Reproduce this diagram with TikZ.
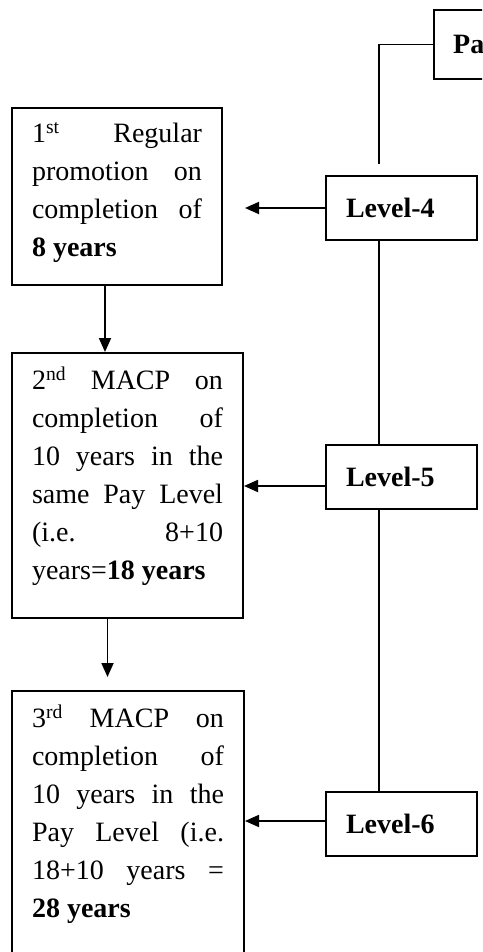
\documentclass[tikz,border=0pt]{standalone}
\usepackage{fontspec}
\setmainfont{Liberation Serif}
\usetikzlibrary{positioning,arrows.meta}
\newcommand{\lowpad}[1]{\rule[-#1]{0pt}{#1}}

\begin{document}
\begin{tikzpicture}[
  x=1pt, y=-1pt,
  stepbox/.style={rectangle, draw, line width=2pt, anchor=north west, inner xsep=20pt, inner ysep=14pt, align=justify},
  level/.style={rectangle, draw, line width=2pt, minimum height=64pt, text width=111pt, inner xsep=20pt, align=left, font=\fontsize{28}{38}\selectfont\bfseries},
  link/.style={line width=1.8pt},
  arrow/.style={link, -{Triangle[length=14pt,width=12pt]}},
  font=\fontsize{28}{38}\selectfont
]
\useasboundingbox (0,0) rectangle (482,952);
\clip (0,0) rectangle (482,952);

% Pay levels
\node[rectangle, draw, line width=2pt, anchor=north west, minimum height=69pt, minimum width=170pt] (pay) at (433,9) {};
\node[anchor=west, inner sep=0pt, font=\fontsize{28}{38}\selectfont\bfseries] (paytext) at ([xshift=20pt]pay.west) {Pa};
\node[level] (lev4) at (401.5,208) {Level-4};
\node[level, below=203pt of lev4] (lev5) {Level-5};
\node[level, below=281pt of lev5] (lev6) {Level-6};

% Promotion boxes
\node[stepbox, text width=170pt] (first) at (11,107) {1\textsuperscript{st} Regular\linebreak promotion on\linebreak completion of\linebreak \textbf{8 years}\lowpad{15pt}};
\node[stepbox, text width=191pt] (second) at (11,352) {2\textsuperscript{nd} MACP on\linebreak completion of\linebreak 10 years in the\linebreak same Pay Level\linebreak (i.e. 8+10\linebreak years=\textbf{18 years}\lowpad{24.5pt}};
\node[stepbox, text width=192pt] (third) at (11,690) {3\textsuperscript{rd} MACP on\linebreak completion of\linebreak 10 years in the\linebreak Pay Level (i.e.\linebreak 18+10 years =\linebreak \textbf{28 years}\lowpad{23.5pt}};

% Spine
\coordinate (bend) at (379,164);
\draw[link] (pay.west) -| (bend);
\draw[link] (lev4.south -| bend) -- (lev5.north -| bend);
\draw[link] (lev5.south -| bend) -- (lev6.north -| bend);

% Arrows
\draw[arrow, shorten >=22pt] (lev4.west) -- (lev4.west -| first.east);
\draw[arrow] ([yshift=-9pt]lev5.west) -- ([yshift=-9pt]lev5.west -| second.east);
\draw[arrow] ([yshift=3pt]lev6.west) -- ([yshift=3pt]lev6.west -| third.east);
\draw[arrow] ([xshift=-12pt]first.south) -- ([xshift=-12pt]first.south |- second.north);
\draw[arrow, shorten >=13pt] ([xshift=-20pt]second.south) -- ([xshift=-20pt]second.south |- third.north);

\end{tikzpicture}
\end{document}
